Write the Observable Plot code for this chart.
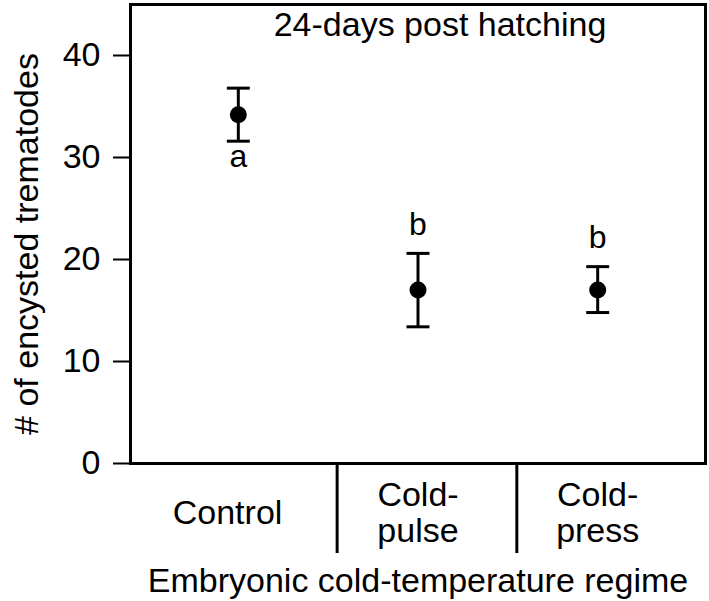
<!DOCTYPE html>
<html>
<head>
<meta charset="utf-8">
<script src="https://cdn.jsdelivr.net/npm/d3@7"></script>
<script src="https://cdn.jsdelivr.net/npm/@observablehq/plot@0.6"></script>
<style>
  html, body { margin: 0; padding: 0; background: #fff; }
</style>
</head>
<body>
<div id="chart"></div>
<script>
// ---- data ----
const categories = ["Control", "Cold-\npulse", "Cold-\npress"];
const positions = [1, 2, 3];
const labelPositions = [0.94, 2, 3];
const means = [34.2, 17.0, 17.0];
const lower = [31.6, 13.4, 14.8];
const upper = [36.8, 20.6, 19.3];
const letters = ["a", "b", "b"];
const letterSide = ["below", "above", "above"];
const yTicks = [0, 10, 20, 30, 40];
const separators = [1.55, 2.55];
const title = "24-days post hatching";
const xTitle = "Embryonic cold-temperature regime";
const yTitle = "# of encysted trematodes";

const data = categories.map((c, i) => ({
  cat: c, x: positions[i], lx: labelPositions[i], mean: means[i], lo: lower[i], hi: upper[i],
  letter: letters[i], side: letterSide[i]
}));

const cap = {
  draw(ctx) { ctx.moveTo(-11.5, 0); ctx.lineTo(11.5, 0); }
};

const font = "'Liberation Sans', Arial, Helvetica, sans-serif";
const FS = 34;

const chart = Plot.plot({
  width: 709,
  height: 601,
  marginLeft: 130,
  marginRight: 4,
  marginTop: 4,
  marginBottom: 138,
  style: { fontFamily: font, fontSize: FS + "px", color: "black", background: "white" },
  x: { domain: [0.4, 3.6] },
  y: { domain: [0, 45] },
  marks: [
    Plot.axisY({ ticks: yTicks, tickSize: 17, tickPadding: 13, strokeWidth: 2, label: null, fontSize: FS }),
    Plot.axisX({ ticks: separators, tickSize: 90, strokeWidth: 3, tickFormat: () => "", label: null }),
    Plot.frame({ stroke: "black", strokeWidth: 3 }),
    Plot.ruleX(data, { x: "x", y1: "lo", y2: "hi", stroke: "black", strokeWidth: 3 }),
    Plot.dot(data, { x: "x", y: "lo", symbol: cap, stroke: "black", strokeWidth: 3, fill: "none", r: 5 }),
    Plot.dot(data, { x: "x", y: "hi", symbol: cap, stroke: "black", strokeWidth: 3, fill: "none", r: 5 }),
    Plot.dot(data, { x: "x", y: "mean", r: 8.5, fill: "black", stroke: "none" }),
    Plot.text(data.filter(d => d.side === "below"), { x: "x", y: "lo", text: "letter", dy: 16, fontSize: 32, lineAnchor: "middle" }),
    Plot.text(data.filter(d => d.side === "above"), { x: "x", y: "hi", text: "letter", dy: -29, fontSize: 32, lineAnchor: "middle" }),
    Plot.text(data, { x: "lx", text: "cat", frameAnchor: "bottom", dy: 49, lineAnchor: "middle", lineHeight: 1.05, fontSize: FS }),
    Plot.text([title], { text: d => d, frameAnchor: "top", dx: 22, dy: 7, lineAnchor: "top", fontSize: FS }),
    Plot.text([xTitle], { text: d => d, frameAnchor: "bottom", dy: 118, lineAnchor: "middle", fontSize: FS }),
    Plot.text([yTitle], { text: d => d, frameAnchor: "left", textAnchor: "middle", rotate: -90, dx: -103, dy: 10, lineAnchor: "middle", fontSize: FS })
  ]
});

document.getElementById("chart").appendChild(chart);
</script>
</body>
</html>
